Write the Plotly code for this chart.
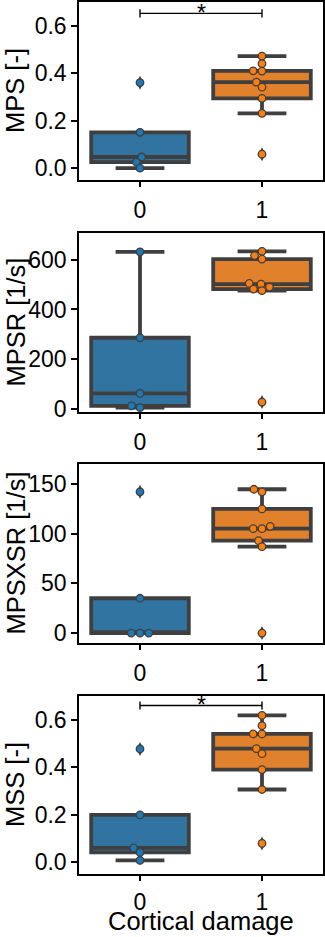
import math
import plotly.graph_objects as go

# ---------------- data ----------------
groups = [0, 1]
group_labels = ["0", "1"]
metrics = ["MPS [-]", "MPSR [1/s]", "MPSXSR [1/s]", "MSS [-]"]

mps_0 = [0.36, 0.151, 0.047, 0.025, 0.0]
mps_1 = [0.472, 0.44, 0.409, 0.41, 0.362, 0.341, 0.294, 0.231, 0.059]

mpsr_0 = [632, 286, 62, 12, 5]
mpsr_1 = [634, 617, 603, 505, 502, 490, 482, 476, 27]

mpsxsr_0 = [142, 35, 0, 0, 0]
mpsxsr_1 = [144.6, 142, 124.8, 107.3, 105, 105, 92.9, 86.9, 0]

mss_0 = [0.477, 0.199, 0.06, 0.041, 0.007]
mss_1 = [0.618, 0.575, 0.54, 0.54, 0.478, 0.457, 0.39, 0.306, 0.079]

y_ranges = [[-0.05, 0.70], [-13, 708], [-10, 170], [-0.05, 0.70]]
y_ticks = [[0.0, 0.2, 0.4, 0.6], [0, 200, 400, 600], [0, 50, 100, 150], [0.0, 0.2, 0.4, 0.6]]
y_ticktext = [["0.0", "0.2", "0.4", "0.6"], ["0", "200", "400", "600"],
              ["0", "50", "100", "150"], ["0.0", "0.2", "0.4", "0.6"]]
# significance brackets (panel index, bar height)
sig_panels = [0, 3]
sig_heights = [0.652, 0.66]
x_title = "Cortical damage"

data = [(mps_0, mps_1), (mpsr_0, mpsr_1), (mpsxsr_0, mpsxsr_1), (mss_0, mss_1)]

# ---------------- style ----------------
W, H = 325, 937
ML, MR, MT, MB = 79, 2, 2, 63
panel_px = [(2, 180), (233, 412), (464, 643), (696, 874)]
box_fill = ["#3274a1", "#e1812c"]
pt_fill = ["#1f77b4", "#ff7f0e"]
dark = "#3f3f3f"
FONT = "Liberation Sans, Arial, sans-serif"

plot_h = H - MT - MB
plot_w = W - ML - MR
x_px_per_unit = plot_w / 2.0
marker_d = 6.5      # swarm spacing (vertical px)
x_stretch = 1.35    # horizontal spread factor of the swarm


def swarm_offsets(vals, ypx):
    n = len(vals)
    order = sorted(range(n), key=lambda i: vals[i])
    placed = []
    offs = [0.0] * n
    for i in order:
        y = vals[i] * ypx
        neigh = [(px, py) for (px, py) in placed if abs(py - y) < marker_d]
        cands = [0.0]
        for px, py in neigh:
            dx = math.sqrt(max(marker_d ** 2 - (py - y) ** 2, 0))
            cands += [px - dx, px + dx]
        cands.sort(key=lambda c: (round(abs(c), 6), c))
        chosen = 0.0
        for c in cands:
            if all((c - px) ** 2 + (y - py) ** 2 >= marker_d ** 2 - 1e-6 for px, py in neigh):
                chosen = c
                break
        placed.append((chosen, y))
        offs[i] = chosen * x_stretch / x_px_per_unit
    return offs


fig = go.Figure()
layout = dict(
    width=W, height=H,
    margin=dict(l=ML, r=MR, t=MT, b=MB, autoexpand=False),
    paper_bgcolor="white", plot_bgcolor="white",
    showlegend=False,
    font=dict(family=FONT, color="black", size=23),
)
shapes = []
annotations = []

for p, (vals0, vals1) in enumerate(data):
    top_px, bot_px = panel_px[p]
    dom = [(H - MB - bot_px) / plot_h, (H - MB - top_px) / plot_h]
    xa = "x" if p == 0 else f"x{p+1}"
    ya = "y" if p == 0 else f"y{p+1}"
    xk = "xaxis" if p == 0 else f"xaxis{p+1}"
    yk = "yaxis" if p == 0 else f"yaxis{p+1}"
    ypx = (bot_px - top_px) / (y_ranges[p][1] - y_ranges[p][0])

    for g, vals in zip(groups, (vals0, vals1)):
        fig.add_trace(go.Box(
            x=[g] * len(vals), y=vals, xaxis=xa, yaxis=ya,
            width=0.8, whiskerwidth=0.5,
            fillcolor=box_fill[g],
            line=dict(color=dark, width=3.8),
            boxpoints="outliers", jitter=0, pointpos=0,
            marker=dict(symbol="diamond-tall", color=dark, size=10,
                        line=dict(color=dark, width=0)),
            quartilemethod="inclusive",
            hoverinfo="y",
        ))
        offs = swarm_offsets(vals, ypx)
        fig.add_trace(go.Scatter(
            x=[g + o for o in offs], y=vals, xaxis=xa, yaxis=ya,
            mode="markers",
            marker=dict(color=pt_fill[g], size=7.5,
                        line=dict(color=dark, width=1.3)),
            hoverinfo="y",
        ))

    layout[xk] = dict(
        domain=[0, 1], anchor=ya, range=[-0.5, 1.5], automargin=False,
        tickmode="array", tickvals=groups, ticktext=group_labels,
        showline=True, mirror=True, linecolor="black", linewidth=1.5,
        ticks="outside", ticklen=5, tickwidth=1.5, tickcolor="black",
        ticklabelstandoff=4 if p < len(data) - 1 else 2,
        showgrid=False, zeroline=False,
        tickfont=dict(size=23, family=FONT, color="black"),
    )
    layout[yk] = dict(
        domain=dom, anchor=xa, range=y_ranges[p], automargin=False,
        tickmode="array", tickvals=y_ticks[p], ticktext=y_ticktext[p],
        showline=True, mirror=True, linecolor="black", linewidth=1.5,
        ticks="outside", ticklen=6, tickwidth=1.5, tickcolor="black",
        showgrid=False, zeroline=False,
        tickfont=dict(size=23, family=FONT, color="black"),
    )
    # y-axis title
    annotations.append(dict(xref="paper", yref="paper", x=(15 - ML) / plot_w,
                            y=(dom[0] + dom[1]) / 2, text=metrics[p], textangle=-90,
                            showarrow=False, xanchor="center", yanchor="middle",
                            font=dict(size=25.5, family=FONT, color="black")))

    if p in sig_panels:
        h = sig_heights[sig_panels.index(p)]
        cap = 0.017
        line = dict(color="black", width=1.4)
        shapes.append(dict(type="line", xref=xa, yref=ya, x0=groups[0], x1=groups[1], y0=h, y1=h, line=line))
        for gx in groups:
            shapes.append(dict(type="line", xref=xa, yref=ya, x0=gx, x1=gx, y0=h - cap, y1=h + cap, line=line))
        annotations.append(dict(xref=xa, yref=ya, x=(groups[0] + groups[1]) / 2, y=h,
                                text="*", showarrow=False, yanchor="middle",
                                font=dict(size=23, family=FONT, color="black")))

# x-axis title (bottom panel)
annotations.append(dict(xref="paper", yref="paper", x=0.5, y=(H - MB - 921) / plot_h,
                        text=x_title, showarrow=False, xanchor="center", yanchor="middle",
                        font=dict(size=25.5, family=FONT, color="black")))

layout["shapes"] = shapes
layout["annotations"] = annotations
fig.update_layout(**layout)
fig.write_html("out.html", config={"displayModeBar": False},
               post_script="document.body.style.margin='0';")
